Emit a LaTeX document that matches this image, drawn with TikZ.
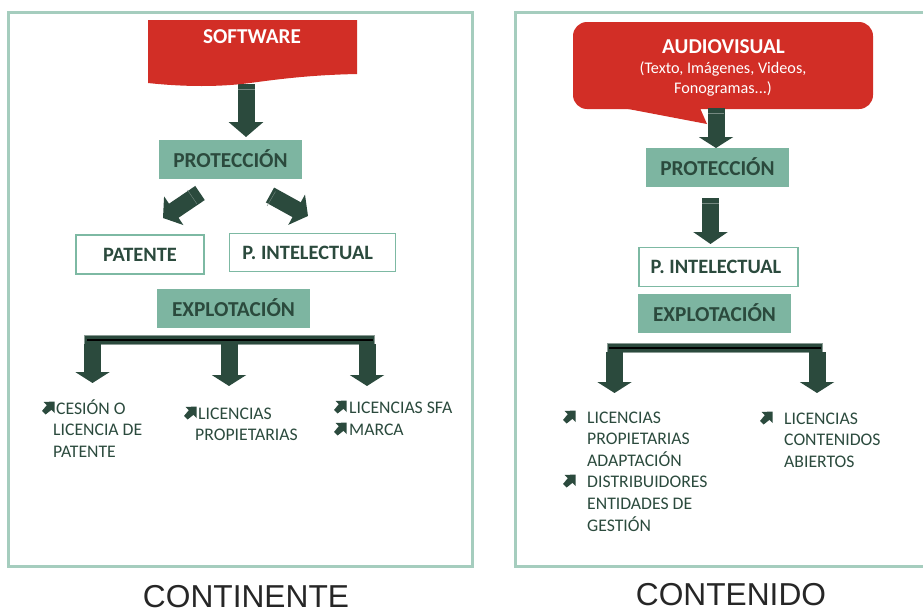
\documentclass[tikz,border=0pt]{standalone}
\usepackage{fontspec}
\setmainfont{Carlito}
\newfontfamily\arialf{Liberation Sans}
\usetikzlibrary{arrows.meta}
\definecolor{framec}{HTML}{A5CDBE}
\definecolor{redc}{HTML}{D22E26}
\definecolor{tealc}{HTML}{7DB5A1}
\definecolor{darkc}{HTML}{2B4A3D}
\definecolor{boxc}{HTML}{7DB9A3}
\tikzset{
  x=1pt,y=-1pt,
  frameline/.style={draw=framec,line width=3pt},
  tealbox/.style={fill=tealc,minimum width=#1,minimum height=39pt,inner sep=0pt,text=darkc,font=\fontsize{21.3}{23}\selectfont\bfseries,text height=15.5pt,text depth=0pt},
  tealbox/.default=143pt,
  whitebox/.style={draw=boxc,line width=1.4pt,fill=white,inner sep=0pt,text=darkc,font=\fontsize{20.4}{22}\selectfont\bfseries,text height=13pt,text depth=0pt},
  bigarrow/.style={draw=darkc,line width=17pt,-{Triangle[length=#1,width=34pt]}},
  bigarrow/.default=11pt,
  barbox/.style={fill=darkc,draw=darkc!55!white,line width=0.6pt},
  listtext/.style={anchor=base west,inner sep=0pt,text=darkc,align=left,font=\fontsize{17.7}{21.6}\selectfont},
  caption/.style={anchor=base,inner sep=0pt,text=black!85,font=\arialf\fontsize{31.7}{34}\selectfont},
  redtext/.style={anchor=base,inner sep=0pt,text=white},
  bulletarrow/.pic={\fill[darkc] (1.5,0)--(12.5,-0.5)--(12.5,11)--(9.5,7.8)--(3.6,12.5)--(0,9)--(4.8,3.2)--cycle;},
  seam/.style={draw=darkc!65!white,line width=0.4pt},
}
\begin{document}
\begin{tikzpicture}
\useasboundingbox (0,0) rectangle (923,608);
% frames
\draw[frameline] (8,12) rectangle (472,566);
\draw[frameline] (923,12) -- (515,12) -- (515,566) -- (923,566);
% left column
\coordinate (a1s) at (246,84); \coordinate (a1e) at (246,137);
\draw[bigarrow=15pt] (a1s) -- (a1e);
\fill[redc] (148,20) -- (357,20) -- (357,74) .. controls (310,75) and (280,79) .. (250,83) .. controls (220,87) and (185,87) .. (148,83) -- cycle;
\draw[seam] (237.5,89.5) -- (254.5,89.5);
\node[redtext,font=\fontsize{21.2}{23}\selectfont\bfseries] (soft) at (252,43.7) {SOFTWARE};
\node[tealbox] (prot1) at (230.5,159.5) {PROTECCIÓN};
\node[whitebox,minimum width=128pt,minimum height=39pt] (pat) at (140,254.5) {PATENTE};
\node[whitebox,minimum width=166pt,minimum height=38pt] (pint1) at (312.7,252.5) {\hspace*{-10pt}P. INTELECTUAL};
\coordinate (d1s) at (200,193); \coordinate (d1e) at (163,218);
\coordinate (d2s) at (270,195); \coordinate (d2e) at (308,216);
\draw[bigarrow=13pt] (d1s) -- (d1e);
\draw[bigarrow=13pt] (d2s) -- (d2e);
\draw[seam] (187.5,190) -- (197,204);
\draw[seam] (267,206) -- (275.5,191.5);
\node[tealbox=153pt] (exp1) at (233.5,308.5) {EXPLOTACIÓN};
\draw[barbox] (84.5,335.3) rectangle (374.7,344);
\fill[black] (87,339) rectangle (373,341);
\coordinate (b1) at (92.5,344); \coordinate (b1e) at (92.5,383);
\coordinate (b2) at (229,344); \coordinate (b2e) at (229,386);
\coordinate (b3) at (367,344); \coordinate (b3e) at (367,386);
\draw[bigarrow] (b1) -- (b1e);
\draw[bigarrow] (b2) -- (b2e);
\draw[bigarrow] (b3) -- (b3e);
\pic at (42,402) {bulletarrow};
\node[listtext] (t1) at (53,457.2) {\hspace*{3pt}CESIÓN O\\LICENCIA DE\\PATENTE};
\pic at (184,407) {bulletarrow};
\node[listtext] (t2) at (195,440.6) {\hspace*{3pt}LICENCIAS\\PROPIETARIAS};
\pic at (334,401) {bulletarrow};
\pic at (334,423) {bulletarrow};
\node[listtext] (t3) at (349,435) {LICENCIAS SFA\\MARCA};
\node[caption] (c1) at (246,607.7) {CONTINENTE};
% right column
\fill[redc,rounded corners=14pt] (573,22) rectangle (873,109);
\fill[redc] (623,108) -- (707,124) -- (700,108) -- cycle;
\coordinate (a2s) at (716,108); \coordinate (a2e) at (716,148);
\draw[bigarrow] (a2s) -- (a2e);
\draw[seam] (708,113.5) -- (724,113.5);
\node[redtext,font=\fontsize{21.2}{23}\selectfont\bfseries] (av) at (723.5,53.5) {AUDIOVISUAL};
\node[redtext,font=\fontsize{16.2}{20}\selectfont] (av2) at (723,73.5) {(Texto, Imágenes, Videos,};
\node[redtext,font=\fontsize{16.2}{20}\selectfont] (av3) at (723,93.5) {Fonogramas...)};
\node[tealbox] (prot2) at (717.5,167.5) {PROTECCIÓN};
\coordinate (a3s) at (710.5,198); \coordinate (a3e) at (710.5,244);
\draw[bigarrow=12pt] (a3s) -- (a3e);
\draw[seam] (702,203) -- (719,203);
\node[whitebox,minimum width=159pt,minimum height=39pt] (pint2) at (718.5,267) {\hspace*{-5pt}P. INTELECTUAL};
\node[tealbox=153pt] (exp2) at (714.5,313.5) {EXPLOTACIÓN};
\draw[barbox] (607.5,343.3) rectangle (822.7,352);
\fill[black] (609,346.5) rectangle (821,348.5);
\coordinate (b4) at (614.5,352); \coordinate (b4e) at (614.5,393);
\coordinate (b5) at (817,352); \coordinate (b5e) at (817,393);
\draw[bigarrow] (b4) -- (b4e);
\draw[bigarrow] (b5) -- (b5e);
\pic at (563,411) {bulletarrow};
\pic at (563,475) {bulletarrow};
\node[listtext] (t4) at (587,531) {LICENCIAS\\PROPIETARIAS\\ADAPTACIÓN\\DISTRIBUIDORES\\ENTIDADES DE\\GESTIÓN};
\pic at (760,412) {bulletarrow};
\node[listtext] (t5) at (784,467.2) {LICENCIAS\\CONTENIDOS\\ABIERTOS};
\node[caption] (c2) at (731,605) {CONTENIDO};
\end{tikzpicture}
\end{document}
